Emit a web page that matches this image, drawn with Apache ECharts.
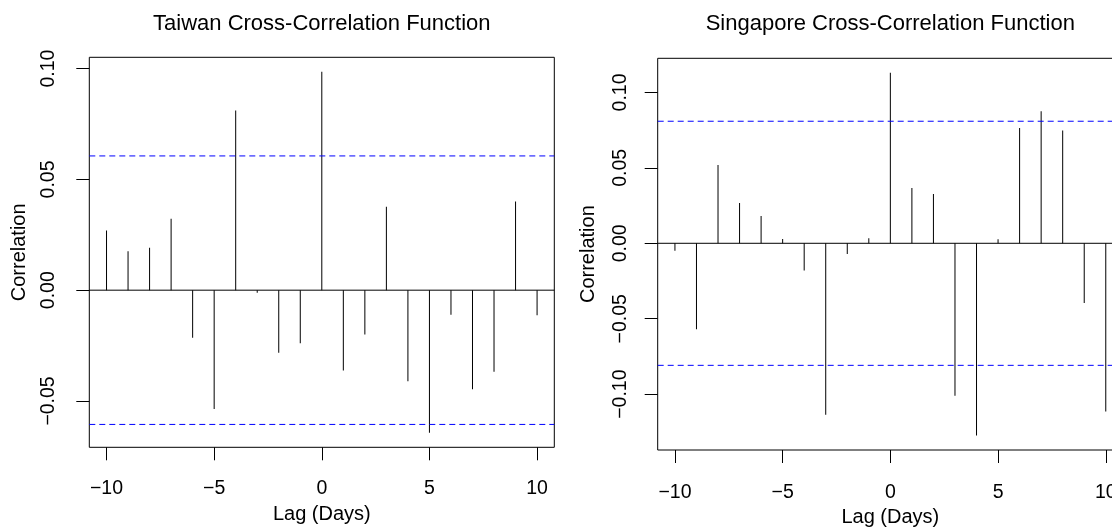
<!DOCTYPE html>
<html>
<head>
<meta charset="utf-8">
<script src="https://cdn.jsdelivr.net/npm/echarts@6/dist/echarts.min.js"></script>
<style>
  html, body { margin: 0; padding: 0; overflow: hidden; background: #fff; }
  #ccf_chart { width: 1130px; height: 527px; }
</style>
</head>
<body>
<div id="ccf_chart"></div>
<script>
// lags and cross-correlation values
const lags = [-10, -9, -8, -7, -6, -5, -4, -3, -2, -1, 0, 1, 2, 3, 4, 5, 6, 7, 8, 9, 10];
const taiwanCcf = [0.0269, 0.0176, 0.0192, 0.0323, -0.0215, -0.0536, 0.0811, -0.0012, -0.0282, -0.0240,
                   0.0986, -0.0363, -0.0200, 0.0377, -0.0411, -0.0644, -0.0111, -0.0447, -0.0368, 0.0400, -0.0113];
const singaporeCcf = [-0.0049, -0.0570, 0.0519, 0.0267, 0.0181, 0.0028, -0.0181, -0.1137, -0.0071, 0.0033,
                      0.1130, 0.0366, 0.0326, -0.1011, -0.1274, 0.0026, 0.0764, 0.0876, 0.0748, -0.0395, -0.1115];
const taiwanBound = 0.0606;
const singaporeBound = 0.0809;

// tick labels
const lagTicks = [-10, -5, 0, 5, 10];
const taiwanTicks = [-0.05, 0, 0.05, 0.10];
const singaporeTicks = [-0.10, -0.05, 0, 0.05, 0.10];

const titles = ['Taiwan Cross-Correlation Function', 'Singapore Cross-Correlation Function'];

const FONT = "'Liberation Sans', Arial, Helvetica, sans-serif";

// R style range: data range stretched by 4% on each side
function rRange(vals) {
    let lo = Math.min(...vals), hi = Math.max(...vals);
    let d = (hi - lo) * 0.04;
    return [lo - d, hi + d];
}

function fmtY(v) {
    let s = Math.abs(v).toFixed(2);
    return (v < -1e-9 ? '\u2212' : '') + s;
}
function fmtX(v) {
    return (v < 0 ? '\u2212' : '') + Math.abs(Math.round(v));
}

const xr = rRange(lags);
const yr1 = rRange(taiwanCcf.concat([taiwanBound, -taiwanBound]));
const yr2 = rRange(singaporeCcf.concat([singaporeBound, -singaporeBound]));

function makeX(idx, labelMargin, nameGap) {
    return {
        type: 'value', gridIndex: idx, min: xr[0], max: xr[1],
        name: 'Lag (Days)', nameLocation: 'middle', nameGap: nameGap,
        nameTextStyle: { color: '#000', fontFamily: FONT, fontSize: 20 },
        axisLine: { show: false, onZero: false },
        splitLine: { show: false },
        axisTick: { show: true, inside: false, length: 13, customValues: lagTicks,
                    lineStyle: { color: '#000', width: 1 } },
        axisLabel: { customValues: lagTicks, formatter: fmtX, margin: labelMargin,
                     color: '#000', fontFamily: FONT, fontSize: 19.5 }
    };
}
function makeY(idx, range, ticks, labelMargin, nameGap) {
    return {
        type: 'value', gridIndex: idx, min: range[0], max: range[1],
        name: 'Correlation', nameLocation: 'middle', nameGap: nameGap, nameRotate: 90,
        nameTextStyle: { color: '#000', fontFamily: FONT, fontSize: 20 },
        axisLine: { show: false, onZero: false },
        splitLine: { show: false },
        axisTick: { show: true, inside: false, length: 13, customValues: ticks,
                    lineStyle: { color: '#000', width: 1 } },
        axisLabel: { customValues: ticks, formatter: fmtY, rotate: 90, margin: labelMargin,
                     color: '#000', fontFamily: FONT, fontSize: 19.5 }
    };
}
// the ccf spikes
function makeSeries(idx, vals) {
    return {
        type: 'bar', xAxisIndex: idx, yAxisIndex: idx,
        data: lags.map((l, i) => [l, vals[i]]),
        barWidth: 1,
        itemStyle: { color: '#000' },
        silent: true
    };
}
// horizontal line across the whole x range at value v
function hLine(idx, v, color, type) {
    return {
        type: 'line', xAxisIndex: idx, yAxisIndex: idx,
        data: [[xr[0], v], [xr[1], v]],
        showSymbol: false, symbol: 'none', silent: true,
        lineStyle: { color: color, width: 1, type: type }
    };
}

let chart = echarts.init(document.getElementById('ccf_chart'), null, { renderer: 'canvas' });
let option = {
    animation: false,
    backgroundColor: '#fff',
    title: [
        { text: titles[0], left: 321.8, top: 13, textAlign: 'center', padding: 0,
          textStyle: { color: '#000', fontWeight: 'normal', fontFamily: FONT, fontSize: 22 } },
        { text: titles[1], left: 890.3, top: 13, textAlign: 'center', padding: 0,
          textStyle: { color: '#000', fontWeight: 'normal', fontFamily: FONT, fontSize: 22 } }
    ],
    grid: [
        { left: 89.3, top: 57.3, width: 465, height: 390, show: true, outerBoundsMode: 'none',
          borderColor: '#000', borderWidth: 1, backgroundColor: 'transparent' },
        { left: 657.7, top: 58.3, width: 465.3, height: 391.7, show: true, outerBoundsMode: 'none',
          borderColor: '#000', borderWidth: 1, backgroundColor: 'transparent' }
    ],
    xAxis: [makeX(0, 31, 57), makeX(1, 33, 57)],
    yAxis: [makeY(0, yr1, taiwanTicks, 31, 60), makeY(1, yr2, singaporeTicks, 27, 59)],
    series: [
        makeSeries(0, taiwanCcf),
        hLine(0, 0, '#000', 'solid'),
        hLine(0, taiwanBound, '#0000ff', [6, 4]),
        hLine(0, -taiwanBound, '#0000ff', [6, 4]),
        makeSeries(1, singaporeCcf),
        hLine(1, 0, '#000', 'solid'),
        hLine(1, singaporeBound, '#0000ff', [6, 4]),
        hLine(1, -singaporeBound, '#0000ff', [6, 4])
    ]
};
chart.setOption(option);
</script>
</body>
</html>
